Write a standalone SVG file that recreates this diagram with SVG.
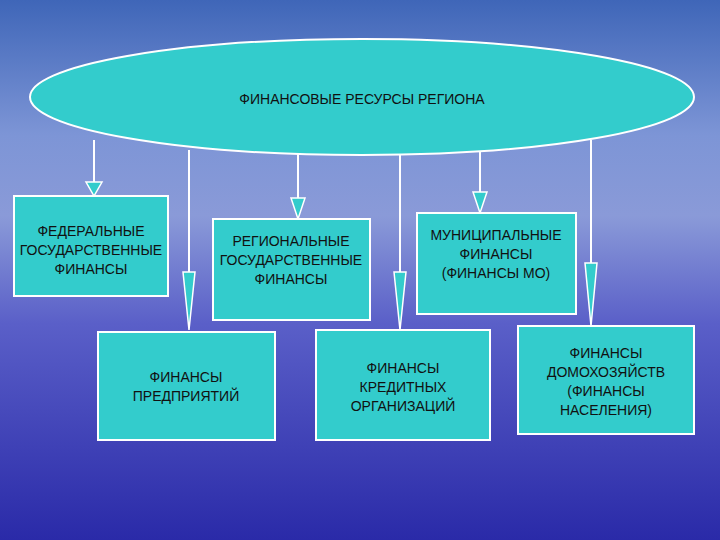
<svg xmlns="http://www.w3.org/2000/svg" width="720" height="540" viewBox="0 0 720 540">
<defs>
<linearGradient id="bg" x1="0" y1="0" x2="0" y2="1">
<stop offset="0" stop-color="#3f66b8"/>
<stop offset="0.25" stop-color="#7d95d6"/>
<stop offset="0.4" stop-color="#8a9ad8"/>
<stop offset="0.6" stop-color="#5a5fc8"/>
<stop offset="1" stop-color="#2a2aa8"/>
</linearGradient>
<style>
.box{fill:#33cccc;stroke:#ffffff;stroke-width:2}
.ln{stroke:#ffffff;stroke-width:2;fill:none}
.ar{fill:#33cccc;stroke:#ffffff;stroke-width:1.5}
text{font-family:"Liberation Sans",Arial,sans-serif;font-size:14px;fill:#111;text-anchor:middle}
</style>
</defs>
<rect width="720" height="540" fill="url(#bg)"/>
<g id="connectors">
<path class="ln" d="M94 140V182M189 150V272M298 153V198M400 153V272M480 151V192M591 140V263"/>
<polygon class="ar" points="86,182 102,182 94,196"/>
<polygon class="ar" points="183,272 195,272 189,330"/>
<polygon class="ar" points="291,198 305,198 298,219"/>
<polygon class="ar" points="394,272 406,272 400,330"/>
<polygon class="ar" points="473,192 487,192 480,213"/>
<polygon class="ar" points="585,263 597,263 591,326"/>
</g>
<g id="root"><ellipse class="box" cx="362" cy="97" rx="332" ry="58"/><text x="362" y="104" font-size="17">ФИНАНСОВЫЕ РЕСУРСЫ РЕГИОНА</text></g>
<g id="fed"><rect class="box" x="14" y="196" width="154" height="100"/><text x="91" y="236">ФЕДЕРАЛЬНЫЕ</text><text x="91" y="255">ГОСУДАРСТВЕННЫЕ</text><text x="91" y="274">ФИНАНСЫ</text></g>
<g id="reg"><rect class="box" x="213" y="219" width="157" height="101"/><text x="291" y="246">РЕГИОНАЛЬНЫЕ</text><text x="291" y="265">ГОСУДАРСТВЕННЫЕ</text><text x="291" y="284">ФИНАНСЫ</text></g>
<g id="mun"><rect class="box" x="417" y="213" width="159" height="101"/><text x="496" y="240">МУНИЦИПАЛЬНЫЕ</text><text x="496" y="259">ФИНАНСЫ</text><text x="496" y="278">(ФИНАНСЫ МО)</text></g>
<g id="ent"><rect class="box" x="98" y="332" width="177" height="108"/><text x="186" y="382">ФИНАНСЫ</text><text x="186" y="401">ПРЕДПРИЯТИЙ</text></g>
<g id="cred"><rect class="box" x="316" y="330" width="174" height="110"/><text x="403" y="373">ФИНАНСЫ</text><text x="403" y="392">КРЕДИТНЫХ</text><text x="403" y="411">ОРГАНИЗАЦИЙ</text></g>
<g id="hh"><rect class="box" x="518" y="326" width="176" height="108"/><text x="606" y="358">ФИНАНСЫ</text><text x="606" y="377">ДОМОХОЗЯЙСТВ</text><text x="606" y="396">(ФИНАНСЫ</text><text x="606" y="415">НАСЕЛЕНИЯ)</text></g>
</svg>
